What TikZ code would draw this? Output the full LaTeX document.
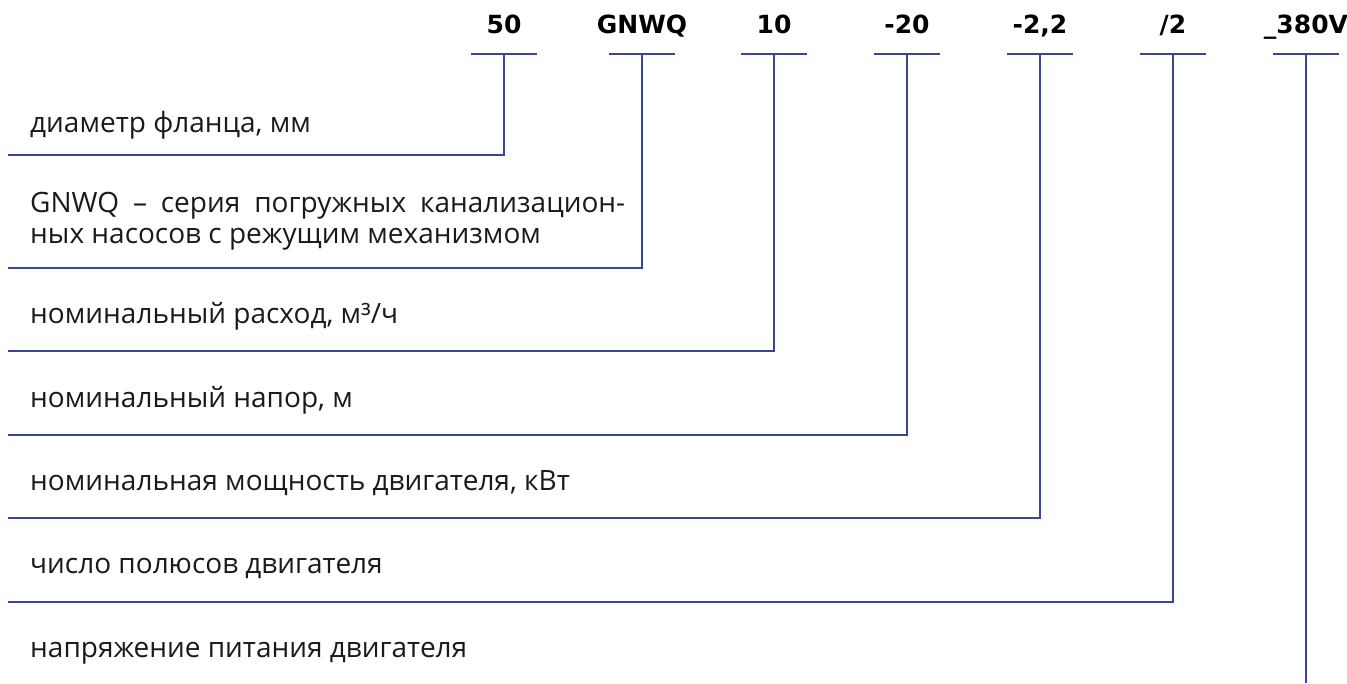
\documentclass[tikz,border=0pt]{standalone}
\usepackage{fontspec}
\setmainfont{Open Sans}
\newfontfamily\codefont{DejaVu Sans}
\definecolor{lineblue}{HTML}{3A4694}
\definecolor{ink}{HTML}{1A1A1A}
\tikzset{
  code/.style={font=\codefont\fontsize{25}{28}\selectfont\bfseries, text=black, inner sep=0pt, anchor=base},
  desc/.style={font=\fontsize{28}{31}\selectfont, text=ink, inner sep=0pt, anchor=base west, align=left},
  lead/.style={draw=lineblue, line width=2pt},
}
\begin{document}
\begin{tikzpicture}[x=1pt,y=-1pt]
\useasboundingbox (0,0) rectangle (1347,683);
% code labels
\foreach \n/\x/\t in {1/504/50, 2/642/GNWQ, 3/774/10, 4/907/-20, 5/1040/{-2,2}, 6/1173/{/2}, 7/1306/\_380V}{
  \node[code] (t\n) at (\x,33) {\t};
  \coordinate (b\n) at (\x,54);
  \coordinate (bl\n) at (\x-33,54);
  \coordinate (br\n) at (\x+33,54);
  \draw[lead] (bl\n) -- (br\n);
}
% description labels
\node[desc] (l1) at (30,132) {диаметр фланца, мм};
\node[desc] (l2) at (30,243) {\makebox[595pt][s]{GNWQ – серия погружных канализацион-}\\ных насосов с режущим механизмом};
\node[desc] (l3) at (30,323) {номинальный расход, м³/ч};
\node[desc] (l4) at (30,407) {номинальный напор, м};
\node[desc] (l5) at (30,490) {номинальная мощность двигателя, кВт};
\node[desc] (l6) at (30,573) {число полюсов двигателя};
\node[desc] (l7) at (30,657) {напряжение питания двигателя};
% lead lines
\foreach \n/\y in {1/155, 2/268, 3/351, 4/435, 5/518, 6/602}{
  \coordinate (c\n) at (b\n |- 0,\y);
  \coordinate (e\n) at (8,\y);
  \draw[lead, line join=miter] (b\n) -- (c\n) -- (e\n);
}
\coordinate (c7) at (b7 |- 0,683);
\draw[lead] (b7) -- (c7);
\end{tikzpicture}
\end{document}
